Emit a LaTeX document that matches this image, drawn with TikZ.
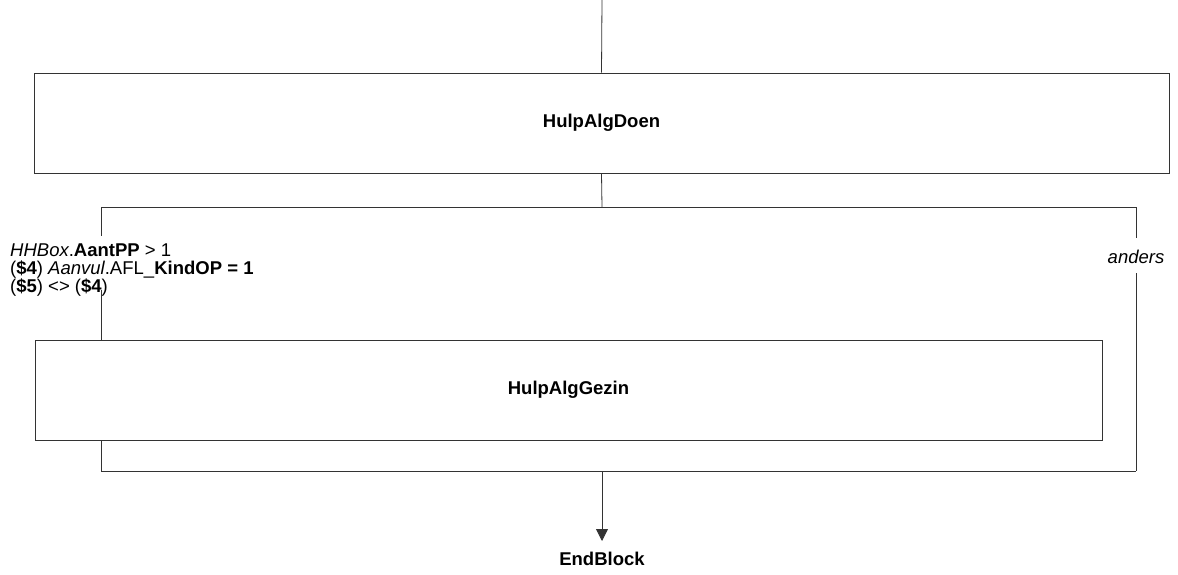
\documentclass[tikz,border=0pt]{standalone}
\usepackage{fontspec}
\setmainfont{Liberation Sans}
\usetikzlibrary{arrows.meta}
\begin{document}
\begin{tikzpicture}[x=1pt,y=-1pt,
  every node/.style={font=\fontsize{18.5}{18}\selectfont},
  boxnode/.style={draw=black!80,line width=0.9pt,inner sep=0pt,font=\fontsize{18.5}{18}\selectfont\bfseries},
  ln/.style={draw=black!80,line width=0.8pt}]
\useasboundingbox (0,0) rectangle (1178,575);
\coordinate (top) at (602,0);
\node[boxnode,minimum width=1135,minimum height=100] (b1) at (601.5,123) {HulpAlgDoen};
\node[boxnode,minimum width=1067,minimum height=100] (b2) at (568.5,390) {HulpAlgGezin};
\coordinate (lt) at (101,207);
\coordinate (rt) at (1136,207);
\coordinate (lb) at (101,471);
\coordinate (rb) at (1136,471);
\coordinate (jt) at (602,207);
\coordinate (jb) at (602,471);
\coordinate (tip) at (602,541);
\coordinate (g1) at (101,236);
\coordinate (g2) at (101,290);
\coordinate (b2t) at (101,340);
\coordinate (b2b) at (101,440);
\coordinate (a1) at (1136,238);
\coordinate (a2) at (1136,273);
\node[anchor=north west,align=left,inner sep=0pt] (cond) at (10,244) {\textit{HHBox}.\textbf{AantPP} > 1\\(\textbf{\$4}) \textit{Aanvul}.AFL\_\textbf{KindOP = 1}\\(\textbf{\$5}) <> (\textbf{\$4})};
\node[font=\fontsize{18.5}{18}\selectfont\itshape,inner sep=0pt] (anders) at (1136,257) {anders};
\node[font=\fontsize{18.5}{18}\selectfont\bfseries,inner sep=0pt] (end) at (602,559) {EndBlock};
\draw[ln] (top) -- (b1.north);
\draw[ln] (b1.south) -- (jt);
\draw[ln] (lt) -- (rt);
\draw[ln] (lt) -- (g1);
\draw[ln] (g2) -- (b2t);
\draw[ln] (b2b) -- (lb);
\draw[ln] (rt) -- (a1);
\draw[ln] (a2) -- (rb);
\draw[ln] (lb) -- (rb);
\draw[ln,-{Triangle[length=12pt,width=12pt]}] (jb) -- (tip);
\end{tikzpicture}
\end{document}
